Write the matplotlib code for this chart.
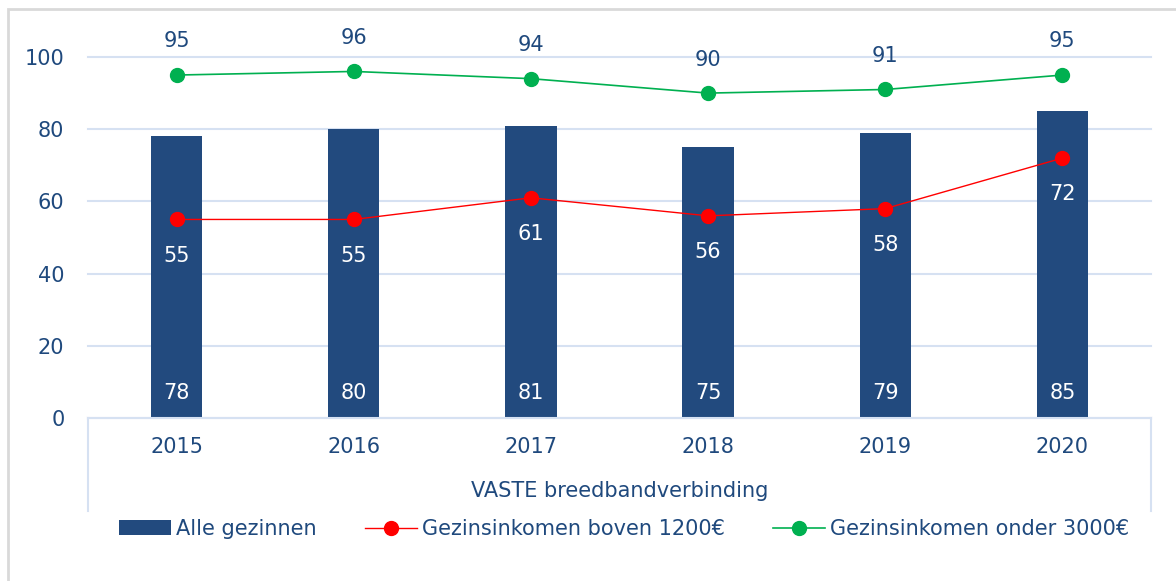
import matplotlib
matplotlib.use("Agg")
import matplotlib.pyplot as plt
from matplotlib.lines import Line2D
from matplotlib.patches import Rectangle

# Values
years = ["2015", "2016", "2017", "2018", "2019", "2020"]
alle_gezinnen = [78, 80, 81, 75, 79, 85]
boven_1200 = [55, 55, 61, 56, 58, 72]
onder_3000 = [95, 96, 94, 90, 91, 95]

axis_title = "VASTE breedbandverbinding"
label_bars = "Alle gezinnen"
label_red = "Gezinsinkomen boven 1200€"
label_green = "Gezinsinkomen onder 3000€"

NAVY = "#224A7E"
TEXT = "#1F497D"
GRID = "#D6E1F2"
RED = "#FF0000"
GREEN = "#00B050"

plt.rcParams["font.family"] = ["DejaVu Sans"]
plt.rcParams["font.size"] = 15

figure = plt.figure(figsize=(11.76, 5.81), dpi=100)
axis = figure.add_axes([88 / 1176, 1 - 418 / 581, (1151 - 88) / 1176, (418 - 57) / 581])

# outer chart border (only top and left visible, rest cut off)
figure.patches.append(Rectangle((8 / 1176, -0.05), 1.1, 1 - 9 / 581 + 0.05,
                                transform=figure.transFigure, fill=False,
                                edgecolor="#D9D9D9", linewidth=2))

x = list(range(len(years)))

bars = axis.bar(x, alle_gezinnen, width=0.29, color=NAVY, zorder=2, label=label_bars)
red_line, = axis.plot(x, boven_1200, color=RED, linewidth=1, marker="o", markersize=10,
                      zorder=3, label=label_red)
green_line, = axis.plot(x, onder_3000, color=GREEN, linewidth=1.2, marker="o", markersize=10,
                        zorder=3, label=label_green)

for xi, value in zip(x, alle_gezinnen):
    axis.text(xi, 7, str(value), ha="center", va="center", color="white", fontsize=15)
for xi, value in zip(x, boven_1200):
    axis.text(xi, value - 10, str(value), ha="center", va="center", color="white", fontsize=15)
for xi, value in zip(x, onder_3000):
    axis.text(xi, value + 9.3, str(value), ha="center", va="center", color=TEXT,
              fontsize=15, clip_on=False)

axis.set_xlim(-0.5, len(years) - 0.5)
axis.set_ylim(0, 100)
axis.set_yticks([0, 20, 40, 60, 80, 100])
axis.set_xticks(x)
axis.set_xticklabels(years)
axis.tick_params(axis="y", length=0, pad=17, colors=TEXT, labelsize=15)
axis.tick_params(axis="x", length=0, pad=14, colors=TEXT, labelsize=15)

axis.grid(True, axis="y", color=GRID, linewidth=1.5, zorder=0)
for grid_line in axis.get_ygridlines():
    grid_line.set_clip_on(False)
axis.set_axisbelow(True)
for side in ["top", "right", "left"]:
    axis.spines[side].set_visible(False)
axis.spines["bottom"].set_color(GRID)
axis.spines["bottom"].set_linewidth(1.5)

# multi-level category box edges
box_depth = (511 - 418) / (418 - 57)
for edge in [0, 1]:
    axis.add_line(Line2D([edge, edge], [0, -box_depth], transform=axis.transAxes,
                         color=GRID, linewidth=1.5, clip_on=False))
axis.text(0.5, -(491 - 418) / (418 - 57), axis_title, transform=axis.transAxes,
          ha="center", va="center", color=TEXT, fontsize=15)

legend = figure.legend([bars, red_line, green_line], [label_bars, label_red, label_green],
                       loc="center", ncol=3,
                       bbox_to_anchor=(624 / 1176, 1 - 529 / 581), frameon=False,
                       handlelength=2.5, handletextpad=0.25, columnspacing=2.3,
                       fontsize=15)
for text in legend.get_texts():
    text.set_color(TEXT)

figure.savefig("out.png", dpi=100)
